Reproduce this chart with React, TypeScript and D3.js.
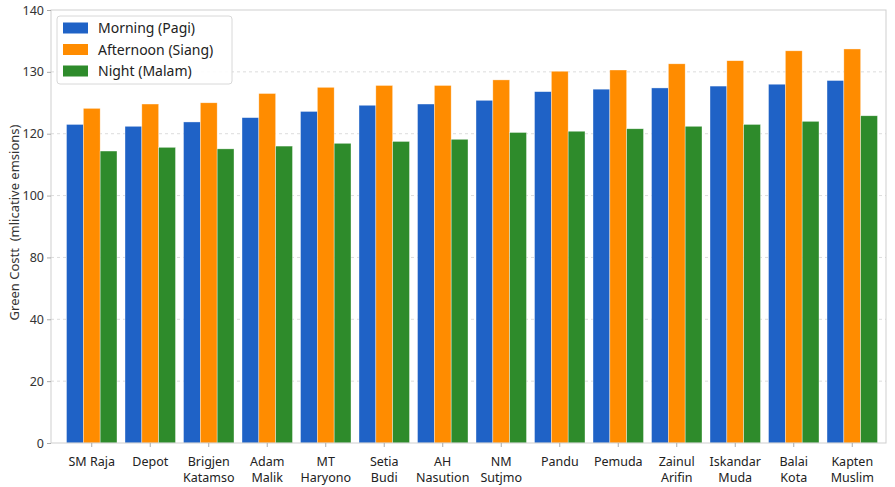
import React, { useEffect, useRef } from 'react'
import * as d3 from 'd3'

const stations = [
  'SM Raja',
  'Depot',
  'Brigjen\nKatamso',
  'Adam\nMalik',
  'MT\nHaryono',
  'Setia\nBudi',
  'AH\nNasution',
  'NM\nSutjmo',
  'Pandu',
  'Pemuda',
  'Zainul\nArifin',
  'Iskandar\nMuda',
  'Balai\nKota',
  'Kapten\nMuslim',
]

const morning = [121.5, 121.2, 121.9, 122.6, 123.6, 124.6, 124.8, 125.4, 126.8, 127.2, 127.4, 127.7, 128.0, 128.6]
const afternoon = [124.1, 124.8, 125.0, 126.5, 127.5, 127.8, 127.8, 128.7, 130.1, 130.3, 131.3, 131.8, 133.4, 133.7]
const night = [114.4, 115.6, 115.1, 116.0, 116.9, 117.5, 118.2, 120.2, 120.4, 120.8, 121.2, 121.5, 122.0, 122.9]

// the axis labels in the picture are not evenly valued, but evenly spaced
const yTicks = [0, 20, 40, 80, 100, 120, 130, 140]

const seriesNames = ['Morning (Pagi)', 'Afternoon (Siang)', 'Night (Malam)']
const seriesColors = ['#1f62c6', '#ff8c00', '#2e8b2b']

const WIDTH = 895
const HEIGHT = 487

export default function App() {
  const svgRef = useRef<SVGSVGElement>(null)

  useEffect(() => {
    if (!svgRef.current) return
    const svg = d3.select(svgRef.current)
    svg.selectAll('*').remove()

    const left = 51
    const right = 886
    const top = 10
    const bottom = 443
    const font = '"Noto Sans", "Open Sans", sans-serif'

    const y = d3
      .scaleLinear()
      .domain(yTicks)
      .range(yTicks.map((_, i) => bottom - ((bottom - top) * i) / (yTicks.length - 1)))

    const x0 = d3.scaleBand<string>().domain(stations).range([66.5, 877.5]).paddingInner(0.137).paddingOuter(0)
    const x1 = d3.scaleBand<number>().domain([0, 1, 2]).range([0, x0.bandwidth()])

    // grid
    svg
      .append('g')
      .selectAll('line')
      .data(yTicks.slice(1, -1))
      .enter()
      .append('line')
      .attr('x1', left)
      .attr('x2', right)
      .attr('y1', (d) => y(d))
      .attr('y2', (d) => y(d))
      .attr('stroke', '#dcdcdc')
      .attr('stroke-width', 1)
      .attr('stroke-dasharray', '3,3')

    // bars
    const allSeries = [morning, afternoon, night]
    const groups = svg
      .append('g')
      .selectAll('g')
      .data(stations)
      .enter()
      .append('g')
      .attr('transform', (d) => `translate(${x0(d)},0)`)

    groups
      .selectAll('rect')
      .data((_, i) => allSeries.map((s, k) => ({ k, v: s[i] })))
      .enter()
      .append('rect')
      .attr('x', (d) => x1(d.k) || 0)
      .attr('y', (d) => y(d.v))
      .attr('width', x1.bandwidth())
      .attr('height', (d) => y(0) - y(d.v))
      .attr('fill', (d) => seriesColors[d.k])
      .attr('stroke', 'rgba(255,255,255,0.6)')
      .attr('stroke-width', 0.6)

    // frame
    svg
      .append('rect')
      .attr('x', left)
      .attr('y', top)
      .attr('width', right - left)
      .attr('height', bottom - top)
      .attr('fill', 'none')
      .attr('stroke', '#cfcfcf')
      .attr('stroke-width', 1)

    // y axis
    const yAxis = svg
      .append('g')
      .attr('transform', `translate(${left},0)`)
      .call(d3.axisLeft(y).tickValues(yTicks).tickSize(4).tickPadding(3).tickFormat((d) => `${d}`))
    yAxis.select('.domain').remove()
    yAxis.selectAll('.tick line').attr('stroke', '#aaa')
    yAxis.selectAll('text').attr('fill', '#333').attr('font-size', '12.5px').attr('font-family', font)

    // x axis
    const xAxis = svg
      .append('g')
      .attr('transform', `translate(0,${bottom})`)
      .call(d3.axisBottom(x0).tickSize(4).tickFormat(() => ''))
    xAxis.select('.domain').remove()
    xAxis.selectAll('.tick line').attr('stroke', '#aaa')

    const xLabels = svg
      .append('g')
      .selectAll('text')
      .data(stations)
      .enter()
      .append('text')
      .attr('x', (d) => (x0(d) || 0) + x0.bandwidth() / 2)
      .attr('y', bottom + 23)
      .attr('text-anchor', 'middle')
      .attr('fill', '#222')
      .attr('font-size', '12.5px')
      .attr('font-family', font)
    xLabels
      .selectAll('tspan')
      .data((d) => d.split('\n'))
      .enter()
      .append('tspan')
      .attr('x', function () {
        return (this as SVGTSpanElement).parentElement?.getAttribute('x') || 0
      })
      .attr('dy', (_, i) => (i === 0 ? 0 : 15.5))
      .text((d) => d)

    // y label
    svg
      .append('text')
      .attr('transform', `translate(19,${(top + bottom) / 2 - 4}) rotate(-90)`)
      .attr('text-anchor', 'middle')
      .attr('fill', '#333')
      .attr('font-size', '13px')
      .attr('font-family', font)
      .attr('xml:space', 'preserve')
      .style('white-space', 'pre')
      .text('Green Costt  (mlicative emsions)')

    // legend
    const legend = svg.append('g').attr('transform', 'translate(57,16)')
    legend
      .append('rect')
      .attr('width', 175)
      .attr('height', 68)
      .attr('rx', 3)
      .attr('fill', 'rgba(255,255,255,0.9)')
      .attr('stroke', '#d8d8d8')
    seriesNames.forEach((name, i) => {
      const row = legend.append('g').attr('transform', `translate(6,${12 + i * 21.5})`)
      row.append('rect').attr('y', -5.5).attr('width', 25).attr('height', 11).attr('fill', seriesColors[i])
      row
        .append('text')
        .attr('x', 35)
        .attr('y', 5)
        .attr('fill', '#222')
        .attr('font-size', '14px')
        .attr('font-family', font)
        .text(name)
    })
  }, [])

  return (
    <svg
      ref={svgRef}
      width={WIDTH}
      height={HEIGHT}
      style={{ position: 'absolute', left: 0, top: 0, background: '#fff' }}
    />
  )
}
